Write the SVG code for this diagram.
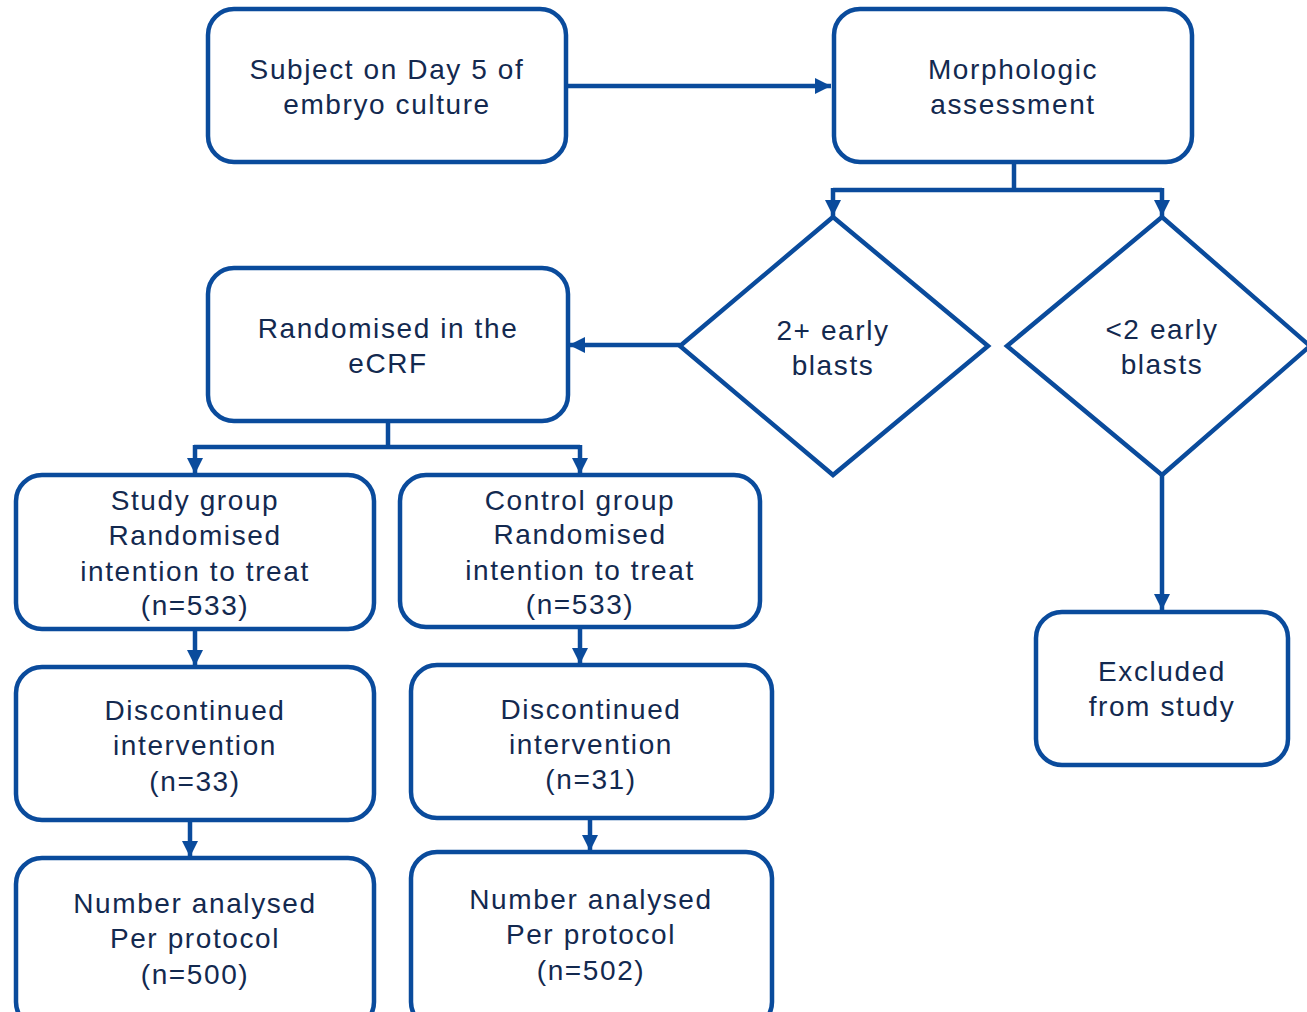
<svg xmlns="http://www.w3.org/2000/svg" width="1307" height="1012" viewBox="0 0 1307 1012">
<style>
.box{fill:#fff;stroke:#0a4b9c;stroke-width:4.5}
.t{font-family:"Liberation Sans",Arial,sans-serif;font-size:28px;fill:#13294f;text-anchor:middle;letter-spacing:1.6px}
.c{fill:none;stroke:#0a4b9c;stroke-width:4.5}
</style>
<defs>
<marker id="ah" viewBox="0 0 10 10" refX="10" refY="5" markerWidth="3.6" markerHeight="3.6" orient="auto" markerUnits="strokeWidth">
<path d="M0,0 L10,5 L0,10 z" fill="#0a4b9c"/>
</marker>
</defs>
<rect width="1307" height="1012" fill="#fff"/>
<g id="connectors">
<path class="c" d="M566,86 H831" marker-end="url(#ah)"/>
<path class="c" d="M1014,162 V190"/>
<path class="c" d="M833,190 H1162"/>
<path class="c" d="M833,188 V216" marker-end="url(#ah)"/>
<path class="c" d="M1162,188 V216" marker-end="url(#ah)"/>
<path class="c" d="M680,345 H569" marker-end="url(#ah)"/>
<path class="c" d="M388,421 V447"/>
<path class="c" d="M194,447 H580"/>
<path class="c" d="M195,445 V474" marker-end="url(#ah)"/>
<path class="c" d="M580,445 V474" marker-end="url(#ah)"/>
<path class="c" d="M195,629 V666" marker-end="url(#ah)"/>
<path class="c" d="M580,627 V664" marker-end="url(#ah)"/>
<path class="c" d="M190,820 V857" marker-end="url(#ah)"/>
<path class="c" d="M590,818 V851" marker-end="url(#ah)"/>
<path class="c" d="M1162,475 V610" marker-end="url(#ah)"/>
</g>
<g id="subject">
<rect class="box" x="208" y="9" width="358" height="153" rx="26"/>
<text class="t" x="387" y="79">Subject on Day 5 of</text>
<text class="t" x="387" y="114">embryo culture</text>
</g>
<g id="morph">
<rect class="box" x="834" y="9" width="358" height="153" rx="26"/>
<text class="t" x="1013" y="79">Morphologic</text>
<text class="t" x="1013" y="114">assessment</text>
</g>
<g id="d1">
<polygon class="box" points="833,217 988,346 833,475 680,346"/>
<text class="t" x="833" y="340">2+ early</text>
<text class="t" x="833" y="375">blasts</text>
</g>
<g id="d2">
<polygon class="box" points="1162,217 1310,346 1162,475 1007,346"/>
<text class="t" x="1162" y="339">&lt;2 early</text>
<text class="t" x="1162" y="374">blasts</text>
</g>
<g id="rand">
<rect class="box" x="208" y="268" width="360" height="153" rx="26"/>
<text class="t" x="388" y="338">Randomised in the</text>
<text class="t" x="388" y="373">eCRF</text>
</g>
<g id="study">
<rect class="box" x="16" y="475" width="358" height="154" rx="26"/>
<text class="t" x="195" y="510">Study group</text>
<text class="t" x="195" y="545">Randomised</text>
<text class="t" x="195" y="581">intention to treat</text>
<text class="t" x="195" y="615">(n=533)</text>
</g>
<g id="control">
<rect class="box" x="400" y="475" width="360" height="152" rx="26"/>
<text class="t" x="580" y="510">Control group</text>
<text class="t" x="580" y="544">Randomised</text>
<text class="t" x="580" y="580">intention to treat</text>
<text class="t" x="580" y="614">(n=533)</text>
</g>
<g id="disc1">
<rect class="box" x="16" y="667" width="358" height="153" rx="26"/>
<text class="t" x="195" y="720">Discontinued</text>
<text class="t" x="195" y="755">intervention</text>
<text class="t" x="195" y="791">(n=33)</text>
</g>
<g id="disc2">
<rect class="box" x="411" y="665" width="361" height="153" rx="26"/>
<text class="t" x="591" y="719">Discontinued</text>
<text class="t" x="591" y="754">intervention</text>
<text class="t" x="591" y="789">(n=31)</text>
</g>
<g id="num1">
<rect class="box" x="16" y="858" width="358" height="170" rx="26"/>
<text class="t" x="195" y="913">Number analysed</text>
<text class="t" x="195" y="948">Per protocol</text>
<text class="t" x="195" y="984">(n=500)</text>
</g>
<g id="num2">
<rect class="box" x="411" y="852" width="361" height="176" rx="26"/>
<text class="t" x="591" y="909">Number analysed</text>
<text class="t" x="591" y="944">Per protocol</text>
<text class="t" x="591" y="980">(n=502)</text>
</g>
<g id="excluded">
<rect class="box" x="1036" y="612" width="252" height="153" rx="26"/>
<text class="t" x="1162" y="681">Excluded</text>
<text class="t" x="1162" y="716">from study</text>
</g>
</svg>
